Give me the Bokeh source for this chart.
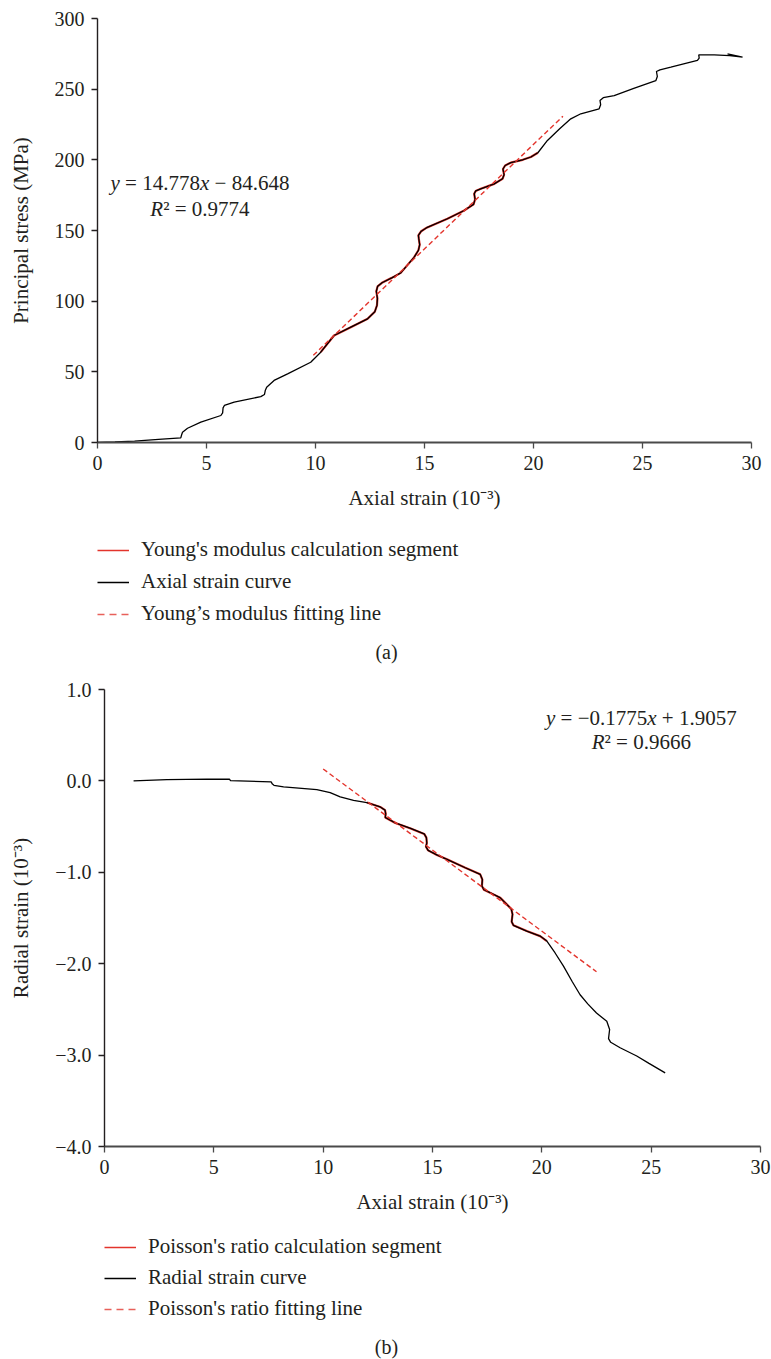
from bokeh.plotting import figure
from bokeh.models import Legend, LegendItem, Label, FixedTicker, Range1d
from bokeh.layouts import column
from bokeh.embed import file_html
from bokeh.resources import INLINE

FONT = "Liberation Serif"
INK = "#231f20"
RED = "#e3342c"
PAGE_W = 771

# ---------------- (a) principal stress vs axial strain ----------------
axial_strain = [0.0, 0.8, 1.7, 2.8, 3.82, 3.86, 3.9, 4.13, 4.74, 5.66, 5.74, 5.76, 5.82,
                6.27, 7.49, 7.66, 7.70, 7.76, 8.1, 8.72, 9.78, 10.24, 10.85, 11.62, 12.39,
                12.72, 12.82, 12.84, 12.79, 12.85, 13.05, 13.5, 13.91, 14.52, 14.72, 14.78,
                14.74, 14.72, 14.85, 15.1, 16.05, 16.8, 17.25, 17.32, 17.28, 17.35, 17.58,
                18.2, 18.58, 18.65, 18.6, 18.7, 18.96, 19.5, 19.88, 20.2, 20.64, 21.2, 21.71,
                22.17, 23.01, 23.08, 23.05, 23.2, 23.7, 24.6, 25.61, 25.68, 25.64, 25.8, 26.3,
                27.52, 27.6, 27.58, 28.29, 29.0, 29.59, 28.9]
principal_stress = [0.0, 0.4, 1.0, 2.2, 3.3, 5.5, 7.3, 10.1, 14.4, 19.1, 21.0, 24.5, 26.2,
                    28.5, 32.5, 34.0, 37.0, 39.1, 43.9, 48.6, 56.8, 63.9, 75.7, 81.6, 87.5,
                    92.5, 97.0, 102.0, 107.0, 110.5, 113.0, 116.5, 120.0, 131.0, 136.0, 140.0,
                    144.0, 146.5, 149.5, 152.0, 158.3, 164.0, 168.5, 172.0, 176.0, 178.0, 179.5,
                    183.0, 186.6, 189.5, 193.5, 196.0, 198.0, 200.0, 202.0, 205.0, 213.7, 222.0,
                    229.0, 232.6, 236.1, 239.0, 242.0, 244.0, 245.5, 250.5, 256.0, 259.0, 262.5,
                    263.7, 265.6, 270.3, 272.0, 274.3, 274.3, 273.7, 272.7, 275.0]
young_segment = [10.24, 20.2]          # strain window used for the modulus
young_slope, young_intercept = 14.778, -84.648
young_r2 = "0.9774"
young_fit_x = [9.9, 21.35]

# ---------------- (b) radial strain vs axial strain ----------------
radial_axial = [1.33, 2.85, 4.68, 5.72, 5.76, 7.62, 7.68, 7.75, 8.19, 9.71, 10.32, 10.78,
                11.39, 12.0, 12.61, 12.83, 12.86, 12.84, 13.3, 14.0, 14.62, 14.72, 14.74,
                14.70, 14.8, 15.2, 15.66, 16.5, 17.18, 17.28, 17.26, 17.35, 18.09, 18.6,
                18.66, 18.62, 18.7, 19.31, 19.92, 20.23, 20.6, 20.99, 21.4, 21.75, 22.1,
                22.5, 22.97, 23.1, 23.05, 23.15, 23.58, 24.34, 24.9, 25.64]
radial_strain = [0.0, 0.015, 0.02, 0.018, 0.004, -0.011, -0.035, -0.048, -0.066, -0.095,
                 -0.128, -0.175, -0.212, -0.237, -0.285, -0.32, -0.36, -0.40, -0.46, -0.52,
                 -0.58, -0.62, -0.68, -0.72, -0.76, -0.81, -0.858, -0.95, -1.022, -1.08,
                 -1.15, -1.19, -1.277, -1.40, -1.46, -1.54, -1.58, -1.643, -1.698, -1.752,
                 -1.88, -2.026, -2.2, -2.34, -2.44, -2.54, -2.63, -2.72, -2.82, -2.86, -2.92,
                 -3.01, -3.09, -3.195]
poisson_segment = [12.0, 20.23]
poisson_slope, poisson_intercept = -0.1775, 1.9057
poisson_r2 = "0.9666"
poisson_fit_x = [10.0, 22.5]

x_ticks = [0, 5, 10, 15, 20, 25, 30]
stress_ticks = [0, 50, 100, 150, 200, 250, 300]
radial_ticks = [1, 0, -1, -2, -3, -4]
radial_tick_labels = ["1.0", "0.0", "\u22121.0", "\u22122.0", "\u22123.0", "\u22124.0"]

# Liberation Serif advance widths (per 1000 em) for the equation glyphs
REG_W = {".": 250, " ": 250, "=": 564, "\u2212": 564, "+": 564, "\u00b2": 300}
ITA_W = {"y": 444, "x": 444, "R": 611}


def text_width(s, style, size):
    table = ITA_W if style == "italic" else REG_W
    return sum(table.get(c, 500) for c in s) * size / 1000.0


def equation(p, x, y, pieces, size=21):
    total = sum(text_width(t, st, size) for t, st in pieces)
    off = -total / 2.0
    for t, st in pieces:
        lead = len(t) - len(t.lstrip(" "))
        p.add_layout(Label(x=x, y=y, x_offset=off + lead * 250 * size / 1000.0,
                           text=t.strip(" "), text_font=FONT, text_font_style=st,
                           text_font_size=f"{size}px", text_color=INK,
                           text_align="left", text_baseline="middle"))
        off += text_width(t, st, size)


def segment(xs, ys, bounds):
    idx = [i for i, v in enumerate(xs) if bounds[0] <= v <= bounds[1]]
    lo, hi = idx[0], idx[-1] + 1
    return xs[lo:hi], ys[lo:hi]


def style_axes(p, yticks, ylabel):
    p.frame_align = False
    p.outline_line_color = None
    p.grid.visible = False
    p.background_fill_color = "white"
    p.border_fill_color = "white"
    p.xaxis.ticker = FixedTicker(ticks=x_ticks)
    p.yaxis.ticker = FixedTicker(ticks=yticks)
    p.xaxis.axis_label = "Axial strain (10\u207b\u00b3)"
    p.yaxis.axis_label = ylabel
    for ax in (p.xaxis, p.yaxis):
        ax.minor_tick_line_color = None
        ax.major_tick_in = 0
        ax.major_tick_out = 6
        ax.major_label_text_font = FONT
        ax.major_label_text_font_size = "20px"
        ax.major_label_text_color = INK
        ax.axis_label_text_font = FONT
        ax.axis_label_text_font_size = "21px"
        ax.axis_label_text_font_style = "normal"
        ax.axis_label_text_color = INK
    p.xaxis.axis_line_color = "#4a4a4a"
    p.xaxis.axis_line_width = 2
    p.xaxis.major_tick_line_color = "#4a4a4a"
    p.xaxis.major_tick_line_width = 1.3
    p.yaxis.axis_line_color = INK
    p.yaxis.axis_line_width = 1.4
    p.yaxis.major_tick_line_color = INK
    p.yaxis.major_tick_line_width = 1.3
    p.xaxis.major_label_standoff = 7
    p.xaxis.axis_label_standoff = 13
    p.yaxis.major_label_standoff = 7
    p.yaxis.axis_label_standoff = 19


def legend_strip(height, entries, glyph_left, top_gap, gap, cap_text, cap_x, cap_from_top):
    """A borderless strip under a chart holding its key and its caption."""
    s = figure(frame_width=PAGE_W, frame_height=height, min_border=0,
               x_range=Range1d(0, PAGE_W), y_range=Range1d(0, height),
               x_axis_location=None, y_axis_location=None,
               output_backend="svg", toolbar_location=None)
    s.frame_align = False
    s.outline_line_color = None
    s.grid.visible = False
    items = []
    nan = float("nan")
    for label, kw in entries:
        # key-only renderer: a single undefined point, so nothing shows in the strip
        r = s.line(x=[nan], y=[nan], **kw)
        items.append(LegendItem(label=label, renderers=[r]))
    row_h = 24
    leg_h = 3 * row_h + 2 * gap
    leg = Legend(items=items, location=(glyph_left, height - top_gap - leg_h),
                 margin=0, padding=0, spacing=gap,
                 label_text_font=FONT, label_text_font_size="21px", label_text_color=INK,
                 glyph_width=32, glyph_height=row_h, label_height=row_h, label_standoff=12,
                 border_line_color=None, background_fill_alpha=0)
    s.add_layout(leg, "center")
    s.add_layout(Label(x=cap_x, y=height - cap_from_top, text=cap_text, text_font=FONT,
                       text_font_size="20px", text_color=INK,
                       text_align="center", text_baseline="middle"))
    return s


SEG_STYLE = dict(line_color=RED, line_width=2.2)
CURVE_STYLE = dict(line_color="black", line_width=1.3)
FIT_STYLE = dict(line_color=RED, line_width=1.4, line_dash="5 3")

# thinner strokes for the key samples
KEY_SEG = dict(line_color=RED, line_width=1.4)
KEY_CURVE = dict(line_color="black", line_width=1.3)
KEY_FIT = dict(line_color="#e8605a", line_width=1.4, line_dash="7 5")

# ---------------- figure (a) ----------------
pa = figure(frame_width=654, frame_height=424, min_border_left=97, min_border_right=20,
            min_border_top=18, min_border_bottom=80, x_range=Range1d(0, 30),
            y_range=Range1d(0, 300), output_backend="svg", toolbar_location=None)
style_axes(pa, stress_ticks, "Principal stress (MPa)")

seg_x, seg_y = segment(axial_strain, principal_stress, young_segment)
pa.line(seg_x, seg_y, **SEG_STYLE)
pa.line(axial_strain, principal_stress, **CURVE_STYLE)
fit_ya = [young_slope * v + young_intercept for v in young_fit_x]
pa.line(young_fit_x, fit_ya, **FIT_STYLE)

equation(pa, 4.7, 183.3, [("y", "italic"), (" = 14.778", "normal"), ("x", "italic"),
                          (" \u2212 84.648", "normal")])
equation(pa, 4.7, 164.9, [("R", "italic"), ("\u00b2 = " + young_r2, "normal")])

la = legend_strip(144, [("Young's modulus calculation segment", KEY_SEG),
                        ("Axial strain curve", KEY_CURVE),
                        ("Young\u2019s modulus fitting line", KEY_FIT)],
                  97, 18, 7, "(a)", 386, 129)

# ---------------- figure (b) ----------------
pb = figure(frame_width=656, frame_height=457, min_border_left=104, min_border_right=11,
            min_border_top=23, min_border_bottom=74, x_range=Range1d(0, 30),
            y_range=Range1d(-4, 1), output_backend="svg", toolbar_location=None)
style_axes(pb, radial_ticks, "Radial strain (10\u207b\u00b3)")
pb.yaxis.major_label_overrides = dict(zip(radial_ticks, radial_tick_labels))

seg_xb, seg_yb = segment(radial_axial, radial_strain, poisson_segment)
pb.line(seg_xb, seg_yb, **SEG_STYLE)
pb.line(radial_axial, radial_strain, **CURVE_STYLE)
fit_yb = [poisson_slope * v + poisson_intercept for v in poisson_fit_x]
pb.line(poisson_fit_x, fit_yb, **FIT_STYLE)

equation(pb, 24.55, 0.69, [("y", "italic"), (" = \u22120.1775", "normal"), ("x", "italic"),
                           (" + 1.9057", "normal")])
equation(pb, 24.55, 0.427, [("R", "italic"), ("\u00b2 = " + poisson_r2, "normal")])

lb = legend_strip(139, [("Poisson's ratio calculation segment", KEY_SEG),
                        ("Radial strain curve", KEY_CURVE),
                        ("Poisson's ratio fitting line", KEY_FIT)],
                  104, 17, 6, "(b)", 386, 126)

layout = column(pa, la, pb, lb, spacing=0)
open("out.html", "w").write(file_html(layout, INLINE))
